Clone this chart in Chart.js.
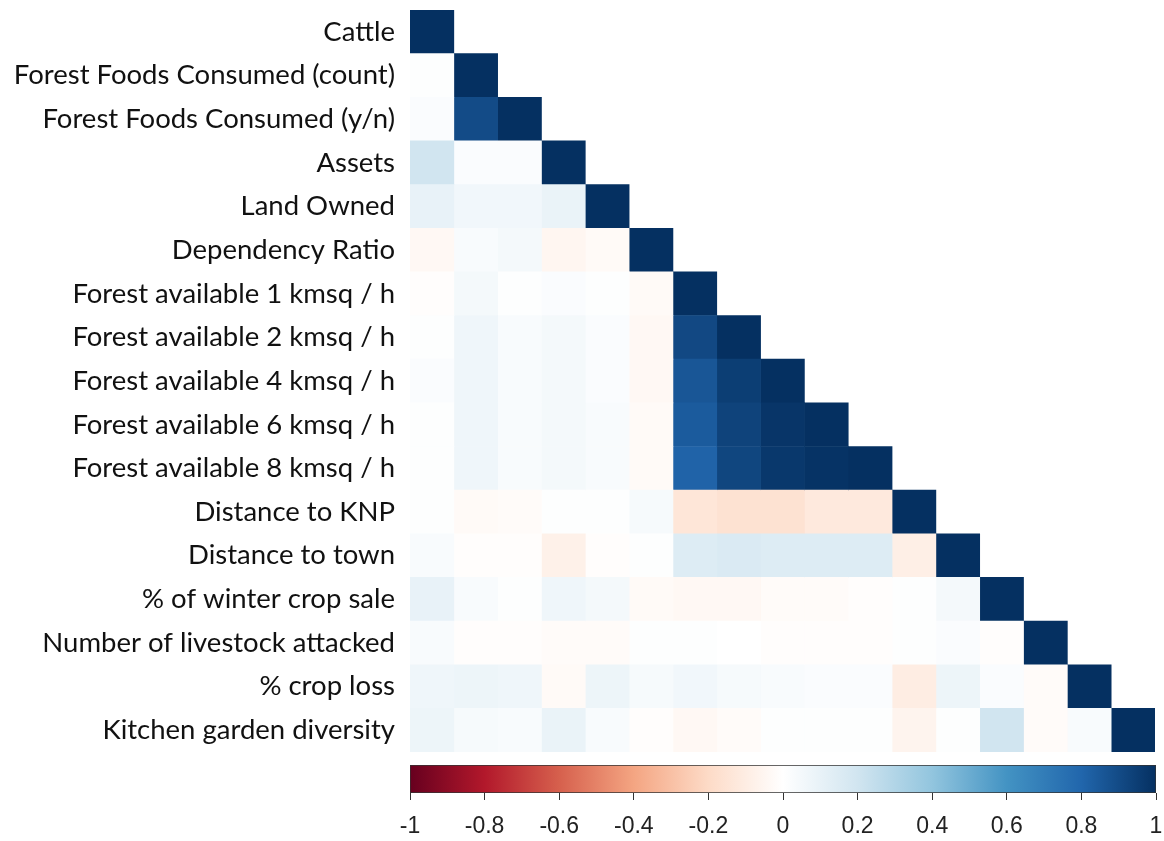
<!DOCTYPE html>
<html>
<head>
<meta charset="utf-8">
<script src="https://cdn.jsdelivr.net/npm/chart.js@4"></script>
<style>
  html, body { margin: 0; padding: 0; background: #fff; overflow: hidden; }
  #wrap { position: relative; width: 1164px; height: 841px; overflow: hidden; }
  #heat { position: absolute; left: 0; top: -20px; }
  #bar { position: absolute; left: 0; top: 755px; }
</style>
</head>
<body>
<div id="wrap">
  <canvas id="heat" width="1164" height="802"></canvas>
  <canvas id="bar" width="1164" height="88"></canvas>
</div>
<script>
// variable names (rows top to bottom, columns left to right)
const variables = [
  'Cattle',
  'Forest Foods Consumed (count)',
  'Forest Foods Consumed (y/n)',
  'Assets',
  'Land Owned',
  'Dependency Ratio',
  'Forest available 1 kmsq / h',
  'Forest available 2 kmsq / h',
  'Forest available 4 kmsq / h',
  'Forest available 6 kmsq / h',
  'Forest available 8 kmsq / h',
  'Distance to KNP',
  'Distance to town',
  '% of winter crop sale',
  'Number of livestock attacked',
  '% crop loss',
  'Kitchen garden diversity'
];

// lower triangle of the correlation matrix, one row per variable
const corrRows = [
  [1],
  [0.01, 1],
  [0.02, 0.90, 1],
  [0.20, 0.02, 0.02, 1],
  [0.10, 0.06, 0.06, 0.09, 1],
  [-0.04, 0.03, 0.05, -0.05, -0.03, 1],
  [-0.01, 0.05, 0.01, 0.02, 0.01, -0.03, 1],
  [0.01, 0.07, 0.03, 0.05, 0.02, -0.04, 0.91, 1],
  [0.02, 0.07, 0.03, 0.05, 0.02, -0.04, 0.86, 0.95, 1],
  [0.01, 0.07, 0.03, 0.05, 0.03, -0.03, 0.84, 0.93, 0.98, 1],
  [0.01, 0.07, 0.03, 0.05, 0.03, -0.03, 0.81, 0.92, 0.97, 0.99, 1],
  [0.01, -0.03, -0.02, 0.01, 0.01, 0.04, -0.14, -0.16, -0.16, -0.12, -0.12, 1],
  [0.03, -0.01, -0.01, -0.08, -0.01, 0.01, 0.15, 0.16, 0.15, 0.15, 0.15, -0.09, 1],
  [0.10, 0.03, 0.01, 0.07, 0.05, -0.03, -0.04, -0.04, -0.02, -0.02, -0.01, 0.01, 0.05, 1],
  [0.03, -0.01, -0.01, -0.02, -0.02, 0.01, 0.01, 0.00, -0.01, -0.01, -0.01, 0.01, 0.02, -0.01, 1],
  [0.07, 0.08, 0.07, -0.03, 0.08, 0.04, 0.06, 0.04, 0.03, 0.02, 0.02, -0.10, 0.08, 0.02, -0.02, 1],
  [0.08, 0.04, 0.03, 0.09, 0.03, -0.01, -0.04, -0.02, 0.01, 0.01, 0.01, -0.06, 0.01, 0.20, -0.02, 0.03, 1]
];

// colour bar ticks
const legendTicks = [-1, -0.8, -0.6, -0.4, -0.2, 0, 0.2, 0.4, 0.6, 0.8, 1];

// RdBu palette, one stop per tick from -1 to 1
const paletteStops = ['#67001F', '#B2182B', '#D6604D', '#F4A582', '#FDDBC7', '#FFFFFF',
                      '#D1E5F0', '#92C5DE', '#4393C3', '#2166AC', '#053061'];

function hexToRgb(h) {
  return [parseInt(h.slice(1, 3), 16), parseInt(h.slice(3, 5), 16), parseInt(h.slice(5, 7), 16)];
}

function corrColor(v) {
  const pos = (v + 1) / 2 * (paletteStops.length - 1);
  const i = Math.min(Math.floor(pos), paletteStops.length - 2);
  const t = pos - i;
  const a = hexToRgb(paletteStops[i]), b = hexToRgb(paletteStops[i + 1]);
  const c = a.map((x, k) => Math.round(x + (b[k] - x) * t));
  return `rgb(${c[0]},${c[1]},${c[2]})`;
}

Chart.defaults.animation = false;
Chart.defaults.font.family = 'Lato, "Open Sans", sans-serif';

// one floating-bar dataset per column; bars span the column's cell on a linear x axis
const n = variables.length;
const datasets = variables.map((_, c) => ({
  data: variables.map((_, r) => r >= c ? [c - 0.5, c + 0.5] : null),
  backgroundColor: variables.map((_, r) => r >= c ? corrColor(corrRows[r][c]) : 'rgba(0,0,0,0)'),
  borderWidth: 0,
  grouped: false,
  barPercentage: 1,
  categoryPercentage: 1
}));

new Chart(document.getElementById('heat'), {
  type: 'bar',
  data: { labels: variables, datasets },
  options: {
    indexAxis: 'y',
    responsive: false,
    layout: { padding: { top: 10, right: 9, bottom: 8, left: 0 } },
    plugins: { legend: { display: false }, tooltip: { enabled: false } },
    scales: {
      x: { type: 'linear', min: -0.5, max: n - 0.5, display: false },
      y: {
        type: 'category',
        grid: { display: false, drawTicks: false },
        border: { display: false },
        ticks: { color: '#111', font: { size: 27.5, lineHeight: '30px' }, padding: 15, autoSkip: false },
        afterFit: s => { s.width = 410; }
      }
    }
  }
});

// colour bar legend
new Chart(document.getElementById('bar'), {
  type: 'bar',
  data: {
    labels: ['scale'],
    datasets: [{
      data: [[-1, 1]],
      backgroundColor: ctx => {
        const area = ctx.chart.chartArea;
        if (!area) return '#fff';
        const g = ctx.chart.ctx.createLinearGradient(area.left, 0, area.right, 0);
        paletteStops.forEach((col, i) => g.addColorStop(i / (paletteStops.length - 1), col));
        return g;
      },
      borderColor: '#333',
      borderWidth: 1,
      borderSkipped: false,
      barPercentage: 1,
      categoryPercentage: 1
    }]
  },
  options: {
    indexAxis: 'y',
    responsive: false,
    layout: { padding: { top: 10, right: 8, bottom: 0, left: 410 } },
    plugins: { legend: { display: false }, tooltip: { enabled: false } },
    scales: {
      y: { display: false },
      x: {
        type: 'linear',
        min: -1,
        max: 1,
        afterBuildTicks: s => { s.ticks = legendTicks.map(v => ({ value: v })); },
        grid: { drawOnChartArea: false, drawTicks: true, tickLength: 7, color: '#333' },
        border: { display: false },
        ticks: {
          color: '#222',
          font: { family: '"Liberation Sans", Arial, sans-serif', size: 23 },
          padding: 13,
          maxRotation: 0,
          callback: v => String(Math.round(v * 10) / 10)
        },
        afterFit: s => { s.height = 50; s.paddingLeft = 0; s.paddingRight = 0; }
      }
    }
  }
});
</script>
</body>
</html>
